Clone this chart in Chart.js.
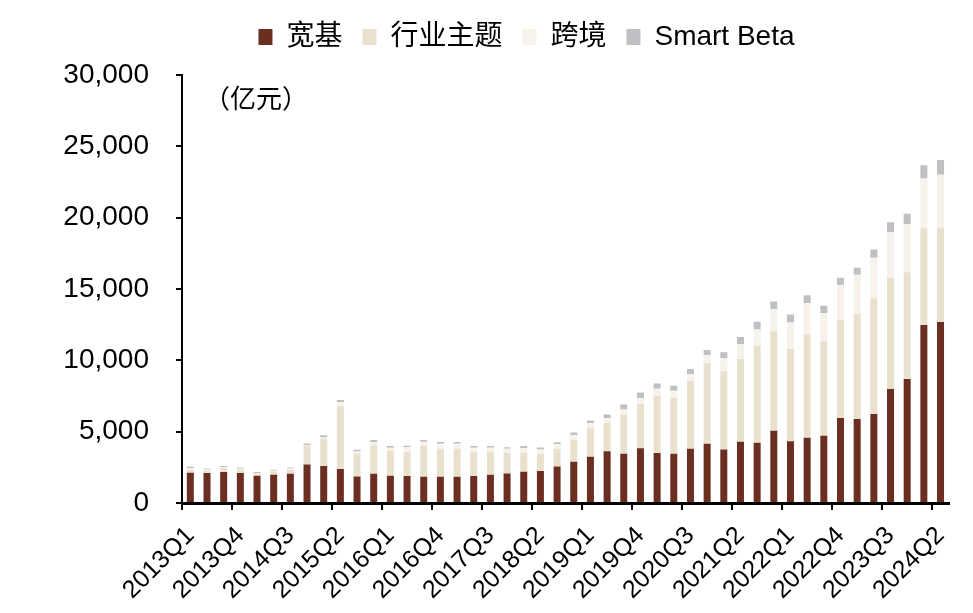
<!DOCTYPE html>
<html>
<head>
<meta charset="utf-8">
<script src="https://cdn.jsdelivr.net/npm/chart.js@4.4.1/dist/chart.umd.min.js"></script>
<style>
  body { margin: 0; background: #fff; }
  #wrap { width: 973px; height: 613px; }
</style>
</head>
<body>
<div id="wrap"><canvas id="chartCanvas" width="973" height="613"></canvas></div>
<script>
// quarters 2013Q1 .. 2024Q2
const quarters = [
  "2013Q1", "2013Q2", "2013Q3", "2013Q4", "2014Q1", "2014Q2", "2014Q3", "2014Q4",
  "2015Q1", "2015Q2", "2015Q3", "2015Q4", "2016Q1", "2016Q2", "2016Q3", "2016Q4",
  "2017Q1", "2017Q2", "2017Q3", "2017Q4", "2018Q1", "2018Q2", "2018Q3", "2018Q4",
  "2019Q1", "2019Q2", "2019Q3", "2019Q4", "2020Q1", "2020Q2", "2020Q3", "2020Q4",
  "2021Q1", "2021Q2", "2021Q3", "2021Q4", "2022Q1", "2022Q2", "2022Q3", "2022Q4",
  "2023Q1", "2023Q2", "2023Q3", "2023Q4", "2024Q1", "2024Q2",
];

// 亿元
const broadBase = [
  2120, 2100, 2170, 2100, 1910, 1980, 2050, 2700, 2590, 2380,
  1860, 2050, 1910, 1890, 1840, 1840, 1840, 1890, 1980, 2070,
  2190, 2240, 2560, 2890, 3240, 3630, 3450, 3840, 3500, 3450,
  3800, 4150, 3750, 4290, 4220, 5060, 4330, 4570, 4710, 5960,
  5890, 6240, 7990, 8690, 12470, 12680,
];
const industryTheme = [
  190, 160, 280, 210, 140, 210, 280, 1330, 1890, 4400,
  1610, 2000, 1750, 1700, 2170, 1960, 1960, 1700, 1610, 1440,
  1330, 1210, 1230, 1540, 2030, 1980, 2730, 3100, 4010, 3910,
  4750, 5660, 5480, 5800, 6800, 6970, 6480, 7250, 6640, 6870,
  7360, 8110, 7800, 7480, 6780, 6620,
];
const crossBorder = [
  140, 90, 70, 90, 50, 70, 90, 40, 110, 300,
  140, 230, 210, 330, 280, 350, 350, 280, 280, 300,
  330, 300, 330, 330, 330, 330, 370, 400, 490, 510,
  470, 560, 910, 1050, 1140, 1560, 1840, 2190, 1960, 2450,
  2750, 2840, 3210, 3380, 3500, 3700,
];
const smartBeta = [
  90, 70, 70, 70, 70, 70, 70, 100, 160, 140,
  120, 140, 120, 90, 120, 120, 120, 120, 120, 90,
  140, 140, 140, 190, 190, 260, 350, 400, 370, 350,
  370, 350, 420, 490, 540, 540, 560, 560, 510, 510,
  490, 580, 680, 720, 930, 1050,
];

const seriesNames = ["宽基", "行业主题", "跨境", "Smart Beta"];
const yTicks = [0, 5000, 10000, 15000, 20000, 25000, 30000];

const FONT = "'Liberation Sans', Arial, 'Noto Sans CJK SC', sans-serif";

// unit label inside the plot
const unitLabel = {
  id: "unitLabel",
  afterDraw(chart) {
    const c = chart.ctx;
    const y = chart.scales.y.getPixelForValue(30000) + 23;
    c.save();
    c.font = "26px 'Noto Sans CJK SC', sans-serif";
    c.fillStyle = "#000";
    c.textAlign = "left";
    c.textBaseline = "middle";
    c.fillText("（亿元）", chart.chartArea.left + 22, y);
    c.restore();
  },
};

// more room under the legend, and legend nudged right
const legendGap = {
  id: "legendGap",
  beforeLayout(chart) {
    const lg = chart.legend;
    if (lg && !lg._gapPatched) {
      const fit = lg.fit;
      lg.fit = function () {
        fit.call(this);
        this.height += 14;
      };
      lg._gapPatched = true;
    }
  },
  afterLayout(chart) {
    const lg = chart.legend;
    if (lg) {
      lg.left += 52;
      lg.right += 52;
    }
  },
};

let ctx = document.getElementById("chartCanvas").getContext("2d");

const chart = new Chart(ctx, {
  type: "bar",
  data: {
    labels: quarters,
    datasets: [
      { label: seriesNames[0], data: broadBase, backgroundColor: "#6B2F22" },
      { label: seriesNames[1], data: industryTheme, backgroundColor: "#EAE0CE" },
      { label: seriesNames[2], data: crossBorder, backgroundColor: "#F7F2EB" },
      { label: seriesNames[3], data: smartBeta, backgroundColor: "#BEC0C3" },
    ],
  },
  options: {
    responsive: false,
    animation: false,
    devicePixelRatio: 1,
    datasets: {
      bar: { barPercentage: 0.42, categoryPercentage: 1 },
    },
    layout: {
      padding: { top: 3, right: 24, left: 0, bottom: 0 },
    },
    scales: {
      x: {
        stacked: true,
        afterFit: (scale) => { scale.height = 110; },
        border: { color: "#000", width: 3 },
        grid: {
          offset: true,
          drawOnChartArea: false,
          drawTicks: true,
          tickLength: 7,
          lineWidth: 2,
          color: (c) => (c.index % 3 === 0 ? "#000" : "rgba(0,0,0,0)"),
        },
        ticks: {
          autoSkip: false,
          maxRotation: 45,
          minRotation: 45,
          padding: 11,
          color: "#000",
          font: { family: FONT, size: 25 },
          callback: (v, i) => (i % 3 === 0 ? quarters[i] : ""),
        },
      },
      y: {
        stacked: true,
        min: 0,
        max: 30000,
        afterFit: (scale) => { scale.width = 182; },
        afterBuildTicks: (scale) => {
          scale.ticks = yTicks.map((v) => ({ value: v }));
        },
        border: { color: "#000", width: 2 },
        grid: {
          drawOnChartArea: false,
          drawTicks: true,
          tickLength: 6,
          lineWidth: 2,
          color: "#000",
        },
        ticks: {
          padding: 27,
          color: "#000",
          font: { family: FONT, size: 28 },
          callback: (v) => v.toLocaleString("en-US"),
        },
      },
    },
    plugins: {
      legend: {
        position: "top",
        labels: {
          color: "#000",
          boxWidth: 14,
          boxHeight: 16,
          padding: 20,
          font: { family: FONT, size: 28 },
        },
      },
      tooltip: { enabled: false },
    },
  },
  plugins: [unitLabel, legendGap],
});
</script>
</body>
</html>
